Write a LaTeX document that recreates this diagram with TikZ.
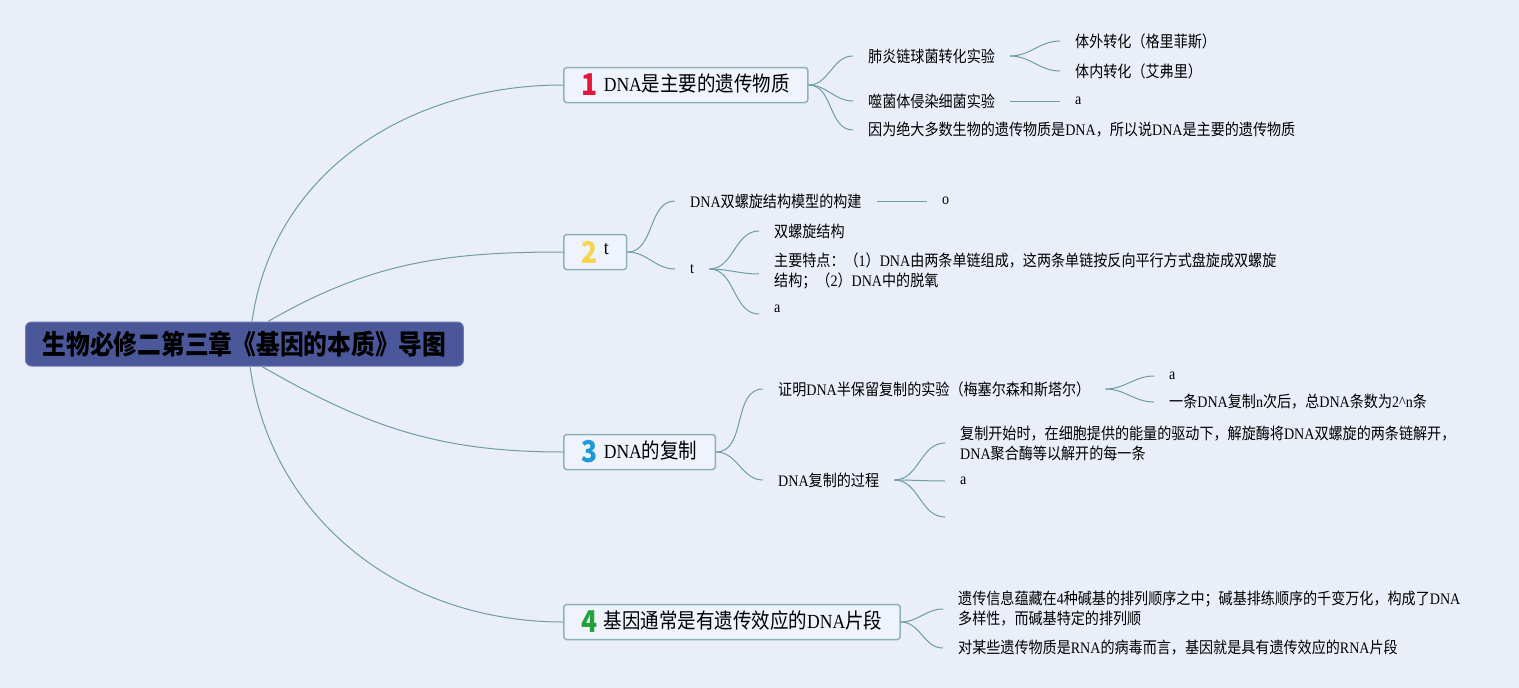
\documentclass[tikz,border=0pt]{standalone}
\usepackage{fontspec}
\setmainfont{Noto Sans CJK SC}[FakeStretch=0.88]
\newfontfamily\latinfont{Liberation Serif}[FakeStretch=0.88]

\definecolor{bgcol}{HTML}{E9EEF9}
\definecolor{rootfill}{HTML}{4A5899}
\definecolor{boxfill}{HTML}{EEF3FC}
\definecolor{boxline}{HTML}{8CB4B6}
\definecolor{linkcol}{HTML}{6E9EA0}
\definecolor{numred}{HTML}{E3173A}
\definecolor{numyellow}{HTML}{F6D44C}
\definecolor{numblue}{HTML}{1C9BD8}
\definecolor{numgreen}{HTML}{23A13A}

\newcommand\en[1]{{\latinfont #1}}
\newcommand\boxen[1]{{\latinfont\fontsize{20}{22}\selectfont #1}}
\newcommand\numtag[2]{\raisebox{-4pt}{\color{#1}\fontsize{30}{30}\selectfont\bfseries #2}\hspace{6pt}}

\tikzset{
  root/.style={anchor=west, rounded corners=6pt, fill=rootfill, draw=rootfill!80!white,
    line width=1pt, minimum height=44pt, inner xsep=17pt, font=\fontsize{27}{30}\selectfont\bfseries},
  topic/.style={anchor=west, rounded corners=3pt, fill=boxfill, draw=boxline,
    line width=1.5pt, minimum height=35pt, inner xsep=18pt, font=\fontsize{21}{25}\selectfont},
  leaf/.style={anchor=west, inner xsep=15pt, inner ysep=2pt, align=left,
    font=\fontsize{16}{20}\selectfont},
  link/.style={draw=linkcol, line width=1pt},
}

\begin{document}
\begin{tikzpicture}[x=1pt,y=-1pt]
  \fill[bgcol] (0,0) rectangle (1519,688);
  \useasboundingbox (0,0) rectangle (1519,688);

  \node[root] (root) at (25,344) {生物必修二第三章《基因的本质》导图};

  \node[topic] (b1) at (563,85) {\numtag{numred}{1}\boxen{DNA}是主要的遗传物质};
  \node[topic] (b2) at (563,252) {\numtag{numyellow}{2}\raisebox{5pt}{\boxen{t}}};
  \node[topic] (b3) at (563,452) {\numtag{numblue}{3}\boxen{DNA}的复制};
  \node[topic] (b4) at (563,622) {\numtag{numgreen}{4}基因通常是有遗传效应的\boxen{DNA}片段};

  \coordinate (r1) at ([xshift=227pt]root.north west);
  \coordinate (r2) at ([xshift=243pt]root.north west);
  \coordinate (r3) at ([xshift=237pt]root.south west);
  \coordinate (r4) at ([xshift=225pt]root.south west);

  \draw[link] (r1) to[out=82,in=180] (b1.west);
  \draw[link] (r2) to[out=30,in=180] (b2.west);
  \draw[link] (r3) to[out=-30,in=180] (b3.west);
  \draw[link] (r4) to[out=-82,in=180] (b4.west);

  % DNA是主要的遗传物质
  \node[leaf] (c11) at (853,56) {肺炎链球菌转化实验};
  \node[leaf] (c12) at (853,101) {噬菌体侵染细菌实验};
  \node[leaf] (c13) at (853,130) {因为绝大多数生物的遗传物质是\en{DNA}，所以说\en{DNA}是主要的遗传物质};
  \node[leaf] (c111) at (1060,41) {体外转化（格里菲斯）};
  \node[leaf] (c112) at (1060,71) {体内转化（艾弗里）};
  \node[leaf] (c121) at (1060,101) {\en{a}};

  \draw[link] (b1.east) to[out=0,in=180] (c11.west);
  \draw[link] (b1.east) to[out=0,in=180] (c12.west);
  \draw[link] (b1.east) to[out=0,in=180] (c13.west);
  \draw[link] (c11.east) to[out=0,in=180] (c111.west);
  \draw[link] (c11.east) to[out=0,in=180] (c112.west);
  \draw[link] (c12.east) -- (c121.west);

  % t
  \node[leaf] (c21) at (675,201) {\en{DNA}双螺旋结构模型的构建};
  \node[leaf] (c22) at (675,269) {\en{t}};
  \node[leaf] (c211) at (927,201) {\en{o}};
  \node[leaf] (c221) at (759,231) {双螺旋结构};
  \node[leaf] (c222) at (759,271) {主要特点：（\en{1}）\en{DNA}由两条单链组成，这两条单链按反向平行方式盘旋成双螺旋\\结构；（\en{2}）\en{DNA}中的脱氧};
  \node[leaf] (c223) at (759,309) {\en{a}};

  \draw[link] (b2.east) to[out=0,in=180] (c21.west);
  \draw[link] (b2.east) to[out=0,in=180] (c22.west);
  \draw[link] (c21.east) -- (c211.west);
  \draw[link] (c22.east) to[out=0,in=180] (c221.west);
  \draw[link] (c22.east) to[out=0,in=180] ([yshift=-3pt]c222.west);
  \draw[link] (c22.east) to[out=0,in=180] ([yshift=-5pt]c223.west);

  % DNA的复制
  \node[leaf] (c31) at (763,389) {证明\en{DNA}半保留复制的实验（梅塞尔森和斯塔尔）};
  \node[leaf] (c32) at (763,480) {\en{DNA}复制的过程};
  \node[leaf] (c311) at (1154,376) {\en{a}};
  \node[leaf] (c312) at (1154,402) {一条\en{DNA}复制\en{n}次后，总\en{DNA}条数为\en{2\textasciicircum n}条};
  \node[leaf] (c321) at (945,443) {复制开始时，在细胞提供的能量的驱动下，解旋酶将\en{DNA}双螺旋的两条链解开，\\\en{DNA}聚合酶等以解开的每一条};
  \node[leaf] (c322) at (945,481) {\en{a}};
  \node[leaf] (c323) at (945,517) {};

  \draw[link] (b3.east) to[out=0,in=180] (c31.west);
  \draw[link] (b3.east) to[out=0,in=180] (c32.west);
  \draw[link] (c31.east) to[out=0,in=180] (c311.west);
  \draw[link] (c31.east) to[out=0,in=180] (c312.west);
  \draw[link] (c32.east) to[out=0,in=180] (c321.west);
  \draw[link] (c32.east) to[out=0,in=180] (c322.west);
  \draw[link] (c32.east) to[out=0,in=180] (c323.west);

  % 基因通常是有遗传效应的DNA片段
  \node[leaf] (c41) at (943,609) {遗传信息蕴藏在\en{4}种碱基的排列顺序之中；碱基排练顺序的千变万化，构成了\en{DNA}\\多样性，而碱基特定的排列顺};
  \node[leaf] (c42) at (943,648) {对某些遗传物质是\en{RNA}的病毒而言，基因就是具有遗传效应的\en{RNA}片段};

  \draw[link] (b4.east) to[out=0,in=180] (c41.west);
  \draw[link] (b4.east) to[out=0,in=180] (c42.west);
\end{tikzpicture}
\end{document}
